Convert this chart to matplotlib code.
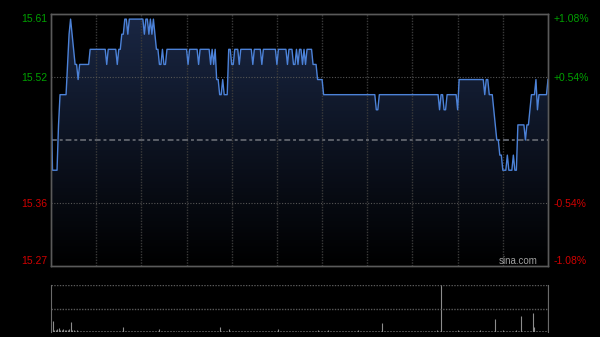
import matplotlib
matplotlib.use('Agg')
import matplotlib.pyplot as plt
import numpy as np
from matplotlib.colors import LinearSegmentedColormap

# previous close and the +/- levels shown on the axes
prev_close = 15.44
pct_levels = [0.0108, 0.0054, -0.0054, -0.0108]
left_labels = ['15.61', '15.52', '15.36', '15.27']
right_labels = ['+1.08%', '+0.54%', '-0.54%', '-1.08%']
label_colors = ['#00a000', '#00a000', '#d00000', '#d00000']
grid_minutes = [30, 60, 90, 120, 150, 180, 210, 240, 270, 300]

# one price per minute, 09:30 - 16:00
prices = [
    15.50, 15.40, 15.40, 15.40, 15.40, 15.46, 15.50, 15.50, 15.50, 15.50,
    15.50, 15.54, 15.58, 15.60, 15.58, 15.56, 15.54, 15.54, 15.52, 15.54,
    15.54, 15.54, 15.54, 15.54, 15.54, 15.54, 15.56, 15.56, 15.56, 15.56,
    15.56, 15.56, 15.56, 15.56, 15.56, 15.56, 15.56, 15.54, 15.56, 15.56,
    15.56, 15.56, 15.56, 15.56, 15.54, 15.56, 15.56, 15.58, 15.58, 15.60,
    15.60, 15.58, 15.60, 15.60, 15.60, 15.60, 15.60, 15.60, 15.60, 15.60,
    15.60, 15.60, 15.58, 15.60, 15.60, 15.58, 15.60, 15.58, 15.60, 15.58,
    15.56, 15.56, 15.54, 15.54, 15.56, 15.54, 15.54, 15.56, 15.56, 15.56,
    15.56, 15.56, 15.56, 15.56, 15.56, 15.56, 15.56, 15.56, 15.56, 15.56,
    15.56, 15.54, 15.56, 15.56, 15.56, 15.56, 15.56, 15.56, 15.54, 15.56,
    15.56, 15.56, 15.56, 15.56, 15.56, 15.56, 15.54, 15.56, 15.54, 15.56,
    15.52, 15.52, 15.50, 15.50, 15.52, 15.50, 15.50, 15.50, 15.56, 15.56,
    15.54, 15.54, 15.56, 15.56, 15.56, 15.54, 15.56, 15.56, 15.56, 15.56,
    15.56, 15.56, 15.56, 15.56, 15.54, 15.56, 15.56, 15.56, 15.56, 15.56,
    15.54, 15.56, 15.56, 15.56, 15.56, 15.56, 15.56, 15.56, 15.56, 15.56,
    15.54, 15.56, 15.56, 15.56, 15.56, 15.56, 15.56, 15.54, 15.56, 15.56,
    15.56, 15.54, 15.54, 15.56, 15.54, 15.56, 15.56, 15.54, 15.56, 15.54,
    15.56, 15.56, 15.56, 15.56, 15.54, 15.54, 15.54, 15.52, 15.52, 15.52,
    15.52, 15.50, 15.50, 15.50, 15.50, 15.50, 15.50, 15.50, 15.50, 15.50,
    15.50, 15.50, 15.50, 15.50, 15.50, 15.50, 15.50, 15.50, 15.50, 15.50,
    15.50, 15.50, 15.50, 15.50, 15.50, 15.50, 15.50, 15.50, 15.50, 15.50,
    15.50, 15.50, 15.50, 15.50, 15.50, 15.50, 15.48, 15.48, 15.50, 15.50,
    15.50, 15.50, 15.50, 15.50, 15.50, 15.50, 15.50, 15.50, 15.50, 15.50,
    15.50, 15.50, 15.50, 15.50, 15.50, 15.50, 15.50, 15.50, 15.50, 15.50,
    15.50, 15.50, 15.50, 15.50, 15.50, 15.50, 15.50, 15.50, 15.50, 15.50,
    15.50, 15.50, 15.50, 15.50, 15.50, 15.50, 15.50, 15.50, 15.48, 15.50,
    15.50, 15.48, 15.48, 15.50, 15.50, 15.50, 15.50, 15.50, 15.50, 15.50,
    15.48, 15.52, 15.52, 15.52, 15.52, 15.52, 15.52, 15.52, 15.52, 15.52,
    15.52, 15.52, 15.52, 15.52, 15.52, 15.52, 15.52, 15.52, 15.50, 15.52,
    15.52, 15.50, 15.50, 15.50, 15.48, 15.46, 15.44, 15.44, 15.42, 15.42,
    15.40, 15.40, 15.40, 15.42, 15.40, 15.40, 15.40, 15.42, 15.40, 15.40,
    15.46, 15.46, 15.46, 15.46, 15.46, 15.44, 15.46, 15.46, 15.48, 15.50,
    15.50, 15.50, 15.52, 15.48, 15.50, 15.50, 15.50, 15.50, 15.50, 15.50,
    15.52,
]

# volume per minute (arbitrary units, panel top = 100)
volumes = [
    6, 23, 5, 4, 6, 9, 4, 5, 6, 4,
    5, 4, 6, 21, 5, 4, 3, 4, 3, 3,
    3, 2, 3, 3, 2, 3, 2, 3, 2, 3,
    2, 3, 2, 2, 3, 2, 3, 2, 2, 3,
    2, 3, 2, 3, 2, 2, 3, 2, 11, 3,
    2, 3, 2, 2, 3, 2, 2, 3, 2, 2,
    3, 2, 2, 3, 2, 2, 3, 2, 2, 3,
    2, 3, 6, 2, 3, 2, 2, 3, 2, 2,
    3, 2, 2, 3, 2, 2, 3, 2, 2, 2,
    3, 2, 2, 3, 2, 2, 2, 3, 2, 2,
    3, 2, 2, 2, 3, 2, 2, 3, 2, 2,
    2, 3, 11, 3, 2, 2, 3, 2, 6, 3,
    2, 2, 3, 2, 2, 3, 2, 2, 2, 3,
    2, 2, 3, 2, 2, 2, 3, 2, 2, 3,
    2, 2, 2, 3, 2, 2, 3, 2, 2, 2,
    3, 6, 2, 2, 3, 2, 2, 2, 3, 2,
    2, 3, 2, 2, 2, 3, 2, 2, 3, 2,
    2, 2, 3, 2, 2, 3, 2, 4, 2, 2,
    3, 2, 2, 2, 5, 2, 2, 3, 2, 2,
    2, 3, 2, 2, 2, 3, 2, 2, 2, 3,
    2, 2, 2, 3, 5, 2, 2, 3, 2, 2,
    2, 3, 2, 2, 2, 3, 2, 2, 3, 2,
    19, 3, 2, 2, 2, 3, 2, 2, 2, 3,
    2, 2, 3, 2, 2, 2, 3, 2, 2, 2,
    3, 2, 2, 2, 3, 2, 2, 3, 2, 2,
    2, 3, 2, 2, 3, 2, 5, 2, 3, 150,
    3, 2, 2, 3, 2, 2, 2, 3, 2, 2,
    5, 2, 3, 2, 2, 2, 3, 2, 2, 2,
    3, 2, 2, 2, 3, 5, 2, 2, 3, 2,
    2, 3, 2, 2, 3, 28, 3, 2, 3, 2,
    5, 2, 3, 2, 2, 3, 2, 3, 2, 5,
    2, 3, 34, 3, 2, 3, 2, 3, 2, 3,
    40, 10, 3, 2, 3, 3, 2, 3, 2, 3,
    150,
]

plt.rcParams['font.family'] = ['Liberation Sans', 'DejaVu Sans']

fig = plt.figure(figsize=(6, 3.37), dpi=100, facecolor='black')

# price panel
ax = fig.add_axes([51 / 600, 71 / 337, 497 / 600, 252 / 337])
ax.set_facecolor('black')
x = np.arange(len(prices))
y_lo = prev_close * (1 + pct_levels[-1])
y_hi = prev_close * (1 + pct_levels[0])

# gradient fill under the price line
area = ax.fill_between(x, prices, y_lo, facecolor='none', edgecolor='none')
fade = LinearSegmentedColormap.from_list('fade', ['#000000', '#1a2744'])
grad = np.linspace(0, 1, 256).reshape(-1, 1)
im = ax.imshow(grad, extent=[0, len(prices) - 1, y_lo, y_hi], origin='lower',
               aspect='auto', cmap=fade, zorder=1)
im.set_clip_path(area.get_paths()[0], transform=ax.transData)

for m in grid_minutes:
    ax.axvline(m, color='#3a3a3a', ls=(0, (1, 1)), lw=1, zorder=2)
for p in pct_levels[1:3]:
    ax.axhline(prev_close * (1 + p), color='#555555', ls=(0, (1, 1.5)), lw=0.8, zorder=2)
ax.axhline(prev_close, color='#5c6068', ls=(0, (3, 1.5, 1.5, 1.5)), lw=1.4, zorder=2)

ax.plot(x, prices, color='#4c82d8', lw=1.0, zorder=3)

ax.set_xlim(0, len(prices) - 1)
ax.set_ylim(y_lo, y_hi)
ax.set_xticks([])
tick_vals = [prev_close * (1 + p) for p in pct_levels]
ax.set_yticks(tick_vals)
ax.set_yticklabels(left_labels)
ax.tick_params(axis='y', length=0, pad=3, labelsize=7.5)
for lbl, c in zip(ax.get_yticklabels(), label_colors):
    lbl.set_color(c)
ax.get_yticklabels()[0].set_va('top')
ax.get_yticklabels()[-1].set_va('bottom')

ax2 = ax.twinx()
ax2.set_ylim(y_lo, y_hi)
ax2.set_yticks(tick_vals)
ax2.set_yticklabels(right_labels)
ax2.tick_params(axis='y', length=0, pad=4, labelsize=7.5)
for lbl, c in zip(ax2.get_yticklabels(), label_colors):
    lbl.set_color(c)
ax2.get_yticklabels()[0].set_va('top')
ax2.get_yticklabels()[-1].set_va('bottom')

for a in (ax, ax2):
    for s in a.spines.values():
        s.set_color('#5a5a5a')
        s.set_linewidth(1)

ax.text(0.94, 0.02, 'sina.com', transform=ax.transAxes, ha='center', va='center',
        color='#a0a0a0', fontsize=7, zorder=4)

# volume panel
vax = fig.add_axes([51 / 600, 5 / 337, 497 / 600, 47 / 337])
vax.set_facecolor('black')
vax.vlines(np.arange(len(volumes)), 0, volumes, color='#8c8c8c', lw=0.8)
vax.set_xlim(0, len(volumes) - 1)
vax.set_ylim(0, 100)
vax.axhline(100, color='#5a5a5a', ls=(0, (1, 1)), lw=1)
vax.axhline(50, color='#5a5a5a', ls=(0, (1, 1)), lw=1)
vax.set_xticks([])
vax.set_yticks([])
for side in ('top', 'bottom'):
    vax.spines[side].set_visible(False)
for side in ('left', 'right'):
    vax.spines[side].set_color('#6a6a6a')

plt.savefig('out.png', dpi=100, facecolor='black')
